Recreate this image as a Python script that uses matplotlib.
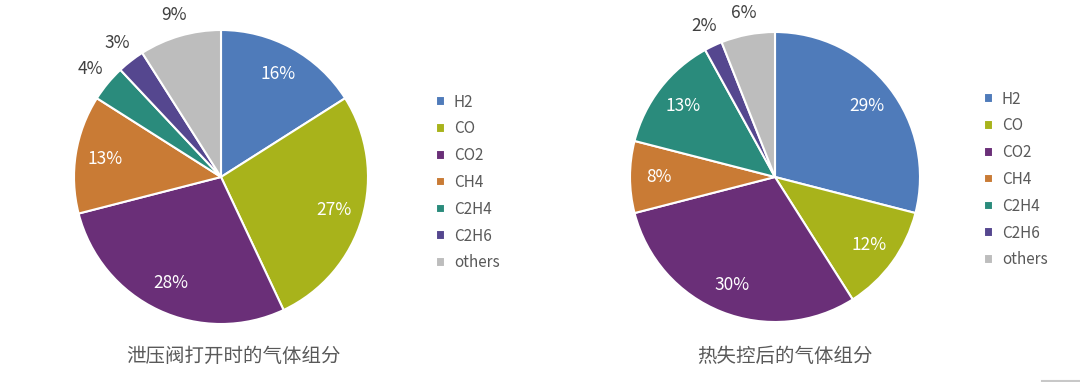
import numpy as np
import matplotlib.pyplot as plt
from matplotlib.lines import Line2D

plt.rcParams['font.family'] = ['Noto Sans CJK SC', 'DejaVu Sans']

# gas components and shares (%)
gases = ['H2', 'CO', 'CO2', 'CH4', 'C2H4', 'C2H6', 'others']
vent_values = [16, 27, 28, 13, 4, 3, 9]
runaway_values = [29, 12, 30, 8, 13, 2, 6]
colors = ['#4F7BBA', '#A8B31B', '#6A2F78', '#C97B35', '#2A8B7C', '#55478F', '#BDBDBD']
titles = ['泄压阀打开时的气体组分', '热失控后的气体组分']

W, H = 1080, 382
fig = plt.figure(figsize=(W / 100, H / 100), dpi=100)


def draw_pie(cx, cy, r, values, outside, title, title_x, legend_x, legend_y):
    ax = fig.add_axes([(cx - r) / W, (H - cy - r) / H, 2 * r / W, 2 * r / H])
    wedges, texts, autotexts = ax.pie(
        values, colors=colors, startangle=90, counterclock=False,
        autopct=lambda p: f'{p:.0f}%', pctdistance=0.8,
        wedgeprops=dict(edgecolor='white', linewidth=1.5),
        textprops=dict(color='white', fontsize=12.5))
    # small slices get their label outside the pie
    for i in outside:
        w = wedges[i]
        ang = np.deg2rad((w.theta1 + w.theta2) / 2)
        autotexts[i].set_position((1.15 * np.cos(ang), 1.15 * np.sin(ang)))
        autotexts[i].set_color('#404040')
        autotexts[i].set_clip_on(False)
    ax.set_xlim(-1, 1)
    ax.set_ylim(-1, 1)
    ax.set_aspect('equal')

    ax.legend(wedges, gases, loc='upper left',
              bbox_to_anchor=(legend_x / W, 1 - legend_y / H),
              bbox_transform=fig.transFigure, frameon=False, borderpad=0,
              handlelength=0.6, handleheight=0.6, handletextpad=0.6,
              labelspacing=0.64, fontsize=11, labelcolor='#595959')

    fig.text(title_x / W, 1 - 356 / H, title, ha='center', va='center',
             fontsize=14, color='#595959')


draw_pie(221, 177, 147, vent_values, [4, 5, 6], titles[0], 233, 428, 86)
draw_pie(775, 177, 145, runaway_values, [5, 6], titles[1], 785, 976, 83)

fig.add_artist(Line2D([1042 / W, 1], [1.5 / H, 1.5 / H], color='#C8C8C8', lw=1.5))

fig.savefig('out.png', dpi=100)
